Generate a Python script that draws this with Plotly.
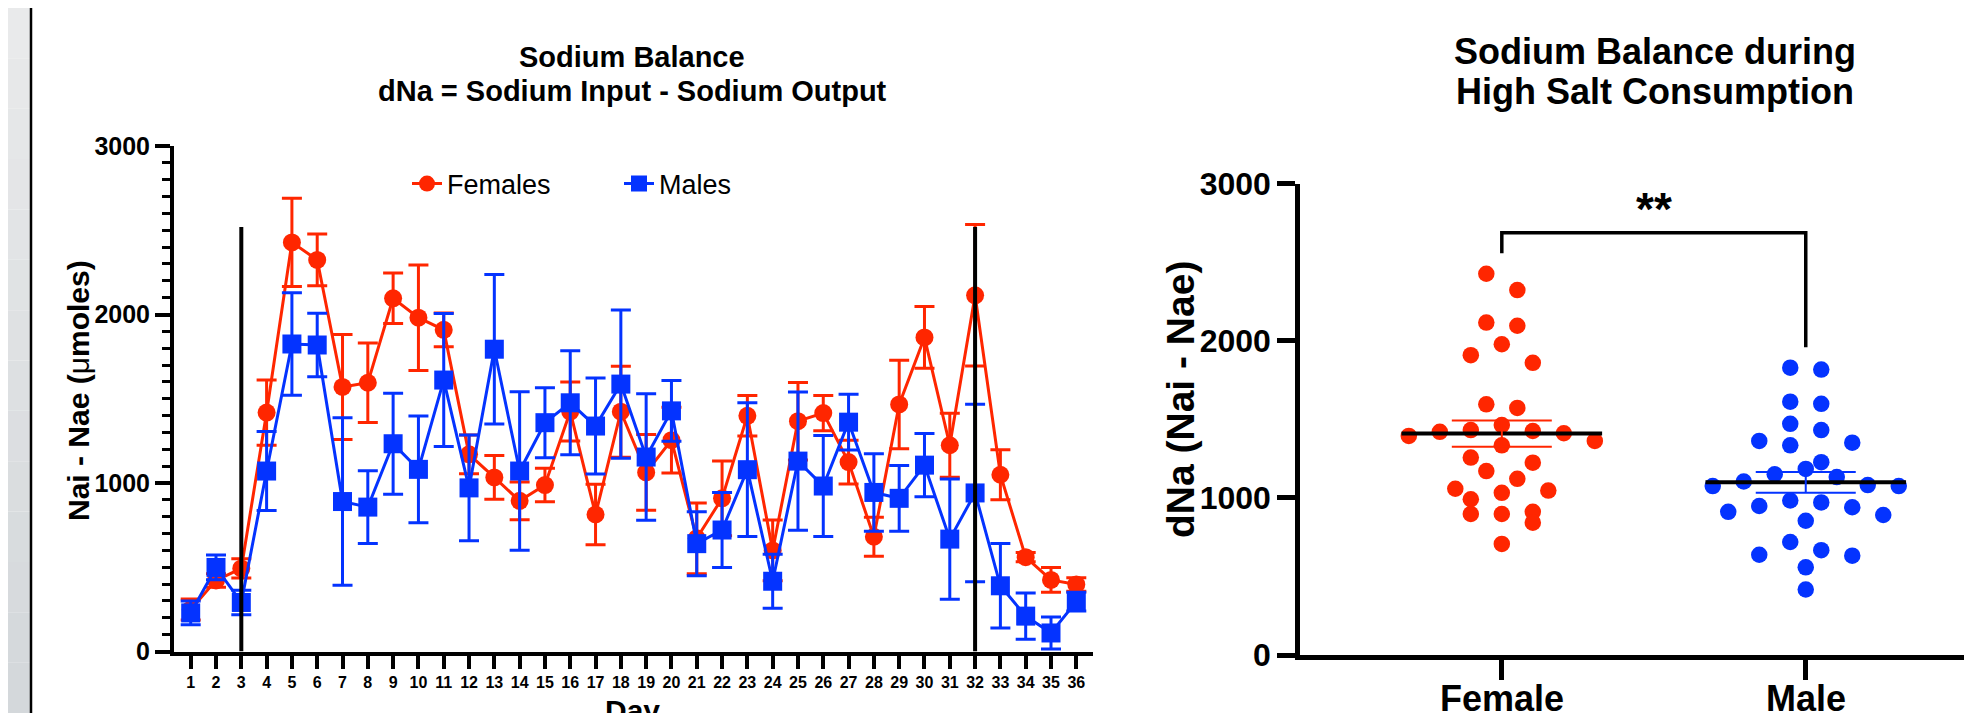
import numpy as np
import plotly.graph_objects as go

# ---------------- data ----------------
days = list(range(1, 37))
female_mean = [249, 422, 493, 1418, 2428, 2324, 1570, 1595, 2096, 1981, 1909, 1170,
               1033, 894, 988, 1424, 813, 1423, 1063, 1254, 672, 909, 1399, 600,
               1367, 1415, 1124, 681, 1466, 1864, 1224, 2114, 1049, 560, 425, 398]
female_sem = [62, 40, 57, 194, 262, 154, 312, 236, 150, 313, 100, 115,
              130, 112, 100, 175, 180, 270, 225, 195, 210, 222, 120, 180,
              230, 105, 130, 115, 262, 183, 190, 420, 148, 27, 73, 40]
male_mean = [229, 499, 291, 1071, 1825, 1819, 890, 857, 1233, 1081, 1611, 971,
             1794, 1071, 1358, 1476, 1338, 1587, 1154, 1428, 640, 721, 1079, 417,
             1130, 982, 1361, 944, 909, 1106, 667, 941, 390, 210, 110, 296]
male_sem = [70, 73, 73, 234, 304, 189, 497, 216, 300, 317, 395, 314,
            444, 470, 208, 309, 285, 440, 375, 180, 190, 223, 397, 160,
            410, 300, 165, 230, 195, 188, 357, 527, 251, 137, 95, 55]
event_days = [3, 32]
event_line_top = 2520

groups = ["Female", "Male"]
female_points = [2426, 2322, 2115, 2095, 1977, 1908, 1859, 1595, 1572, 1463,
                 1431, 1425, 1420, 1411, 1394, 1362, 1334, 1256, 1224, 1170,
                 1121, 1058, 1046, 1032, 991, 911, 897, 897, 842, 707]
male_points = [1828, 1816, 1612, 1598, 1471, 1431, 1362, 1351, 1334, 1227,
               1184, 1150, 1132, 1104, 1081, 1075, 1075, 983, 971, 948,
               940, 911, 891, 854, 719, 667, 638, 632, 558, 417]
significance = "**"

# ---------------- style ----------------
RED = "#FF2600"
BLUE = "#0433FF"
FONT = "Liberation Sans, Arial, sans-serif"
OFF = 8  # page offset of the plot div (default body margin)
W, H = 1972 - OFF, 713 - OFF


def fx(p):
    return (p - OFF) / W


def fy(p):
    return 1 - (p - OFF) / H


def swarm_offsets(values, row_height=125, slot=0.051):
    vals = np.asarray(values, dtype=float)
    order = np.argsort(-vals, kind="stable")
    rows, cur = [], []
    for idx in order:
        if cur and vals[cur[0]] - vals[idx] > row_height:
            rows.append(cur)
            cur = []
        cur.append(idx)
    if cur:
        rows.append(cur)
    offs = np.zeros(len(vals))
    for row in rows:
        n = len(row)
        pos = [(i - (n - 1) / 2) * 2 for i in range(n)]
        pos = sorted(pos, key=lambda p: (abs(p), p))
        for idx, p in zip(row, pos):
            offs[idx] = p * slot
    return offs


fig = go.Figure()

# ---------------- left: time course ----------------
fig.add_trace(go.Scatter(
    x=days, y=female_mean, mode="lines+markers", name="Females",
    line=dict(color=RED, width=3),
    marker=dict(symbol="circle", size=18, color=RED),
    error_y=dict(type="data", array=female_sem, color=RED, thickness=3, width=10),
    xaxis="x", yaxis="y", legend="legend", cliponaxis=False))
fig.add_trace(go.Scatter(
    x=days, y=male_mean, mode="lines+markers", name="Males",
    line=dict(color=BLUE, width=3),
    marker=dict(symbol="square", size=19, color=BLUE),
    error_y=dict(type="data", array=male_sem, color=BLUE, thickness=3, width=10),
    xaxis="x", yaxis="y", legend="legend2", cliponaxis=False))

shapes = []
for d in event_days:
    shapes.append(dict(type="line", xref="x", yref="y", x0=d, x1=d, y0=0,
                       y1=event_line_top, line=dict(color="black", width=4),
                       layer="above"))

# ---------------- right: scatter ----------------
for gi, (pts, col) in enumerate([(female_points, RED), (male_points, BLUE)]):
    offs = swarm_offsets(pts)
    fig.add_trace(go.Scatter(
        x=gi + offs, y=pts, mode="markers", showlegend=False,
        marker=dict(symbol="circle", size=16.5, color=col),
        xaxis="x2", yaxis="y2"))
    arr = np.asarray(pts, dtype=float)
    m = arr.mean()
    sem = arr.std(ddof=1) / np.sqrt(len(arr))
    fig.add_trace(go.Scatter(
        x=[gi - 0.33, gi + 0.33], y=[m, m], mode="lines", showlegend=False,
        line=dict(color="black", width=4), xaxis="x2", yaxis="y2"))
    fig.add_trace(go.Scatter(
        x=[gi], y=[m], mode="markers", showlegend=False,
        marker=dict(size=1, color="rgba(0,0,0,0)"),
        error_y=dict(type="data", array=[sem], color=col, thickness=2, width=50),
        xaxis="x2", yaxis="y2"))

f_top = max(female_points) + 130
m_top = max(male_points) + 130
br_top = max(max(female_points), max(male_points)) + 260
fig.add_trace(go.Scatter(
    x=[0, 0, 1, 1], y=[f_top, br_top, br_top, m_top], mode="lines",
    showlegend=False, line=dict(color="black", width=3.5),
    xaxis="x2", yaxis="y2"))

# decorative slide edge on the far left
n_band = 14
for i in range(n_band):
    t = i / (n_band - 1)
    r = int(233 - 21 * t)
    g = int(234 - 18 * t)
    b = int(235 - 16 * t)
    shapes.append(dict(type="rect", xref="paper", yref="paper",
                       x0=0, x1=fx(30), y0=1 - (i + 1) / n_band, y1=1 - i / n_band,
                       line=dict(width=0), fillcolor=f"rgb({r},{g},{b})",
                       layer="below"))
shapes.append(dict(type="line", xref="paper", yref="paper", x0=fx(31), x1=fx(31),
                   y0=0, y1=1, line=dict(color="black", width=2.5)))


def label(text, x, y, size, **kw):
    d = dict(text=text, x=fx(x), y=fy(y), xref="paper", yref="paper",
             showarrow=False, xanchor="center", yanchor="middle", borderpad=0,
             font=dict(family=FONT, size=size, color="black", weight="bold"))
    d.update(kw)
    return d


annotations = [
    label("Sodium Balance", 632, 57, 29),
    label("dNa = Sodium Input - Sodium Output", 632, 91, 29),
    label("Sodium Balance during", 1655, 52, 36),
    label("High Salt Consumption", 1655, 92, 36),
    label("Nai - Nae (<span style='font-weight:normal'>μ</span>moles)",
          78, 391, 30, textangle=-90),
    label("dNa (Nai - Nae)", 1180, 400, 39, textangle=-90),
    label("Day", 632, 693, 30, yanchor="top"),
    dict(text=significance, x=0.5, y=br_top + 150, xref="x2", yref="y2",
         showarrow=False, xanchor="center", yanchor="middle",
         font=dict(family=FONT, size=46, color="black", weight="bold")),
]
for gi, g in enumerate(groups):
    annotations.append(dict(text=g, x=gi, xref="x2", y=fy(677), yref="paper",
                            showarrow=False, xanchor="center", yanchor="top",
                            borderpad=0,
                            font=dict(family=FONT, size=36, color="black",
                                      weight="bold")))

axis_common = dict(showgrid=False, zeroline=False, showline=True, linecolor="black",
                   ticks="outside", tickcolor="black", automargin=False)

fig.update_layout(
    width=W, height=H, margin=dict(l=0, r=0, t=0, b=0, autoexpand=False),
    paper_bgcolor="white", plot_bgcolor="rgba(0,0,0,0)",
    font=dict(family=FONT, color="black"),
    xaxis=dict(domain=[fx(174), fx(1093)], range=[0.34, 36.66], anchor="y",
               tickmode="array", tickvals=days, ticktext=[str(d) for d in days],
               ticklen=13, tickwidth=4, linewidth=4,
               tickfont=dict(family=FONT, size=16, color="black", weight="bold"),
               **axis_common),
    yaxis=dict(domain=[fy(651.5), fy(146)], range=[0, 3000], anchor="x",
               tickmode="linear", tick0=0, dtick=1000,
               ticklen=15, tickwidth=3.5, linewidth=4,
               minor=dict(dtick=100, ticks="outside", ticklen=8, tickwidth=3,
                          tickcolor="black"),
               tickfont=dict(family=FONT, size=25, color="black", weight="bold"),
               **axis_common),
    xaxis2=dict(domain=[fx(1300), 1.0], range=[-0.664, 1.547], anchor="y2",
                tickmode="array", tickvals=[0, 1], ticktext=["", ""],
                showticklabels=False,
                ticklen=20, tickwidth=4.5, linewidth=4.5,
                **axis_common),
    yaxis2=dict(domain=[fy(655), fy(183.5)], range=[0, 3000], anchor="x2",
                tickmode="linear", tick0=0, dtick=1000,
                ticklen=18, tickwidth=4.5, linewidth=4.5,
                tickfont=dict(family=FONT, size=32, color="black", weight="bold"),
                **axis_common),
    legend=dict(x=fx(407), y=fy(184), xanchor="left", yanchor="middle",
                orientation="h", bgcolor="rgba(0,0,0,0)", borderwidth=0,
                font=dict(family=FONT, size=27, color="black")),
    legend2=dict(x=fx(619), y=fy(184), xanchor="left", yanchor="middle",
                 orientation="h", bgcolor="rgba(0,0,0,0)", borderwidth=0,
                 font=dict(family=FONT, size=27, color="black")),
    shapes=shapes, annotations=annotations, showlegend=True,
)

fig.write_html("out.html")
